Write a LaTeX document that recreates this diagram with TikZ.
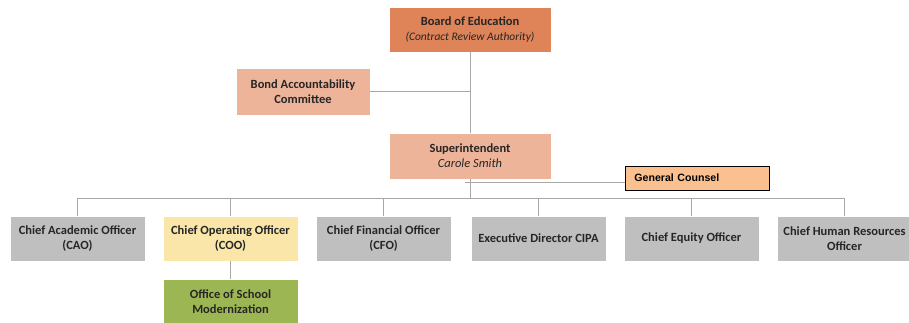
\documentclass[tikz,border=0pt]{standalone}
\usepackage{fontspec}
\setmainfont{Carlito}
\newfontfamily\arialfont{Liberation Sans}
\definecolor{boardc}{HTML}{DF8359}
\definecolor{supc}{HTML}{EDB49A}
\definecolor{gcc}{HTML}{FAC08F}
\definecolor{cooc}{HTML}{F9E6A8}
\definecolor{offc}{HTML}{9DB654}
\definecolor{grayc}{HTML}{BFBFBF}
\definecolor{linec}{HTML}{A8A8A8}
\definecolor{txtc}{HTML}{262626}
\begin{document}
\begin{tikzpicture}[x=1pt,y=-1pt,
  box/.style={draw=white, line width=0.8pt, inner sep=0pt, minimum width=135pt, minimum height=45pt, align=center, font=\bfseries\fontsize{12.5}{15}\selectfont, text=txtc},
  conn/.style={draw=linec, line width=1pt}]
\clip (0,0) rectangle (909,322);
\fill[white] (0,0) rectangle (909,322);
% top
\node[box, fill=boardc, minimum width=162pt] (board) at (470,29.5) {Board of Education\\[0pt]{\mdseries\itshape\fontsize{11.5}{14}\selectfont (Contract Review Authority)}};
\node[box, fill=supc, minimum width=134pt, minimum height=47pt] (bond) at (303,91.5) {Bond Accountability\\Committee};
\node[box, fill=supc, minimum width=162pt, minimum height=46pt] (sup) at (470,156) {Superintendent\\[0pt]{\mdseries\itshape Carole Smith}};
\node[draw=black, line width=0.9pt, fill=gcc, minimum width=144pt, minimum height=24pt, inner xsep=9pt, inner ysep=0pt, anchor=west, text width=126pt, align=left, font=\arialfont\bfseries\fontsize{10.6}{12}\selectfont, text=black] (gc) at (625,178) {\raisebox{-3pt}{General Counsel}};
% children
\node[box, fill=grayc] (cao) at (77.5,238.5) {Chief Academic Officer\\(CAO)};
\node[box, fill=cooc] (coo) at (230.5,238.5) {Chief Operating Officer\\(COO)};
\node[box, fill=grayc] (cfo) at (383.5,238.5) {Chief Financial Officer\\(CFO)};
\node[box, fill=grayc] (cipa) at (538.5,238.5) {Executive Director CIPA};
\node[box, fill=grayc] (ceo) at (691.5,238.5) {Chief Equity Officer};
\node[box, fill=grayc] (hr) at (844.5,238.5) {Chief Human Resources\\Officer};
\node[box, fill=offc] (osm) at (230.5,301.5) {Office of School\\Modernization};
% connectors
\coordinate (bar) at (0,198);
\coordinate (gcstart) at (465,182);
\coordinate (bondj) at (470,91.5);
\draw[conn] (board.south) -- (sup.north);
\draw[conn] (bond.east) -- (bondj);
\draw[conn] (gcstart) -- (gc.west |- gcstart);
\draw[conn] (sup.south) -- (sup.south |- bar);
\draw[conn] (cao.north |- bar) -- (hr.north |- bar);
\foreach \n in {cao,coo,cfo,cipa,ceo,hr}{\draw[conn, line width=0.8pt] (\n.north |- bar) -- (\n.north);}
\draw[conn, line width=0.8pt] (coo.south) -- (osm.north);
\end{tikzpicture}
\end{document}
